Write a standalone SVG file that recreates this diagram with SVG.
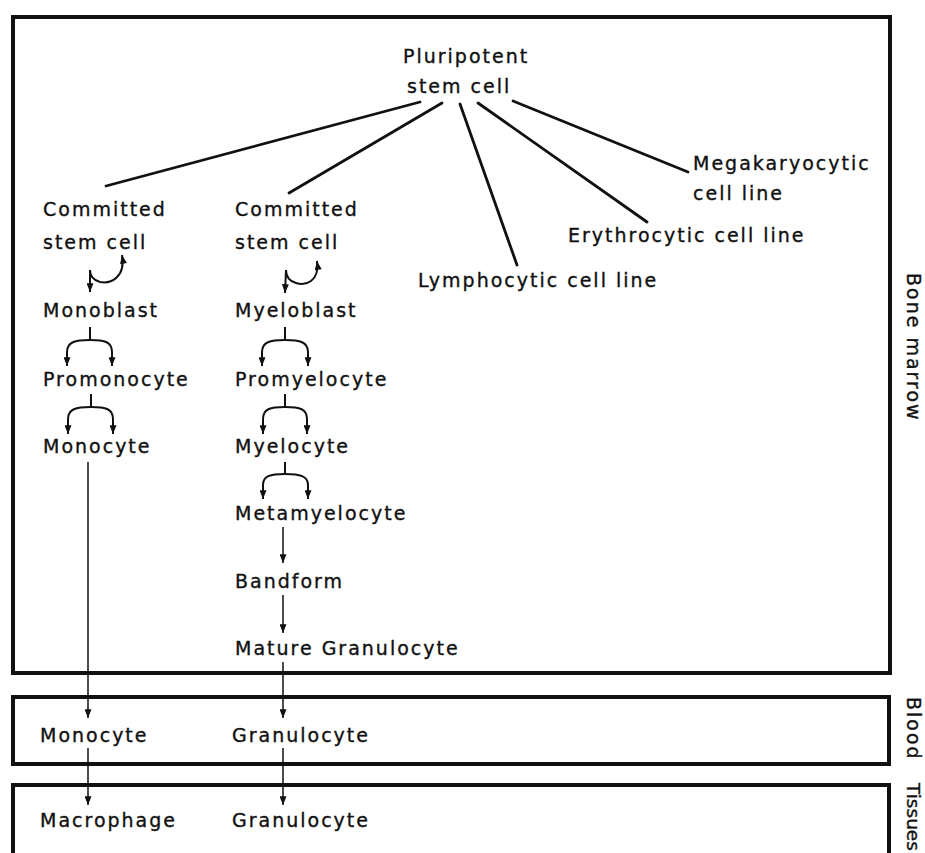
<svg xmlns="http://www.w3.org/2000/svg" width="925" height="853" viewBox="0 0 925 853">
<style>
  text { font-family: "DejaVu Sans", "Liberation Sans", sans-serif; font-size: 19px; letter-spacing: 2px; fill: #111; stroke: #111; stroke-width: 0.35; }
  .box { fill: none; stroke: #111; stroke-width: 4; }
  .bl { fill: none; stroke: #111; stroke-width: 2.8; stroke-linecap: round; }
  .sm { fill: none; stroke: #111; stroke-width: 2; }
  .th { fill: none; stroke: #111; stroke-width: 1.5; }
</style>
<defs>
  <marker id="ah" viewBox="0 0 10 8" refX="10" refY="4" markerWidth="10" markerHeight="7" markerUnits="userSpaceOnUse" orient="auto-start-reverse">
    <path d="M0,0 L10,4 L0,8 z" fill="#111"/>
  </marker>
</defs>
<rect width="925" height="853" fill="#fff"/>

<g id="regions">
  <rect class="box" x="13" y="17" width="877" height="656"/>
  <rect class="box" x="13" y="697" width="876" height="67"/>
  <path class="box" d="M13,860 L13,785 L889,785 L889,860"/>
  <text transform="translate(907,273) rotate(90)">Bone marrow</text>
  <text transform="translate(907,697) rotate(90)">Blood</text>
  <text transform="translate(907,783) rotate(90)" style="font-size:18.5px;letter-spacing:0">Tissues</text>
</g>

<g id="connectors">
  <line class="bl" x1="420" y1="102" x2="106" y2="186"/>
  <line class="bl" x1="442" y1="103" x2="289" y2="193"/>
  <line class="bl" x1="460" y1="104" x2="517" y2="265"/>
  <line class="bl" x1="478" y1="103" x2="647" y2="222"/>
  <line class="bl" x1="513" y1="101" x2="688" y2="172"/>

  <path class="sm" d="M122,255 C126,278 110,284 100,282 C93,280 90,275 90,270 L90,292" marker-start="url(#ah)" marker-end="url(#ah)"/>
  <path class="sm" d="M317,261 C320,282 305,286 296,283 C289,281 286,276 286,270 L285,293" marker-start="url(#ah)" marker-end="url(#ah)"/>

  <path class="sm" d="M90,327 L90,340"/>
  <path class="sm" d="M90,340 C75,340 67,342 67,352 L67,366" marker-end="url(#ah)"/>
  <path class="sm" d="M90,340 C105,340 112,342 112,352 L112,366" marker-end="url(#ah)"/>

  <path class="sm" d="M91,394 L91,407"/>
  <path class="sm" d="M91,407 C76,407 68,409 68,419 L68,434" marker-end="url(#ah)"/>
  <path class="sm" d="M91,407 C106,407 113,409 113,419 L113,434" marker-end="url(#ah)"/>

  <path class="sm" d="M285,327 L285,340"/>
  <path class="sm" d="M285,340 C270,340 262,342 262,352 L262,366" marker-end="url(#ah)"/>
  <path class="sm" d="M285,340 C300,340 308,342 308,352 L308,366" marker-end="url(#ah)"/>

  <path class="sm" d="M285,394 L285,407"/>
  <path class="sm" d="M285,407 C270,407 263,409 263,419 L263,434" marker-end="url(#ah)"/>
  <path class="sm" d="M285,407 C300,407 307,409 307,419 L307,434" marker-end="url(#ah)"/>

  <path class="sm" d="M285,462 L285,474"/>
  <path class="sm" d="M285,474 C270,474 263,476 263,485 L263,499" marker-end="url(#ah)"/>
  <path class="sm" d="M285,474 C300,474 308,476 308,485 L308,499" marker-end="url(#ah)"/>

  <line class="th" x1="283" y1="527" x2="283" y2="563" marker-end="url(#ah)"/>
  <line class="th" x1="283" y1="595" x2="283" y2="633" marker-end="url(#ah)"/>
  <line class="th" x1="283" y1="662" x2="283" y2="718" marker-end="url(#ah)"/>
  <line class="th" x1="283" y1="748" x2="283" y2="805" marker-end="url(#ah)"/>
  <line class="th" x1="88" y1="462" x2="88" y2="718" marker-end="url(#ah)"/>
  <line class="th" x1="88" y1="748" x2="88" y2="805" marker-end="url(#ah)"/>
</g>

<g id="pluripotent"><text x="403" y="63">Pluripotent</text><text x="407" y="93">stem cell</text></g>
<g id="megakaryocytic"><text x="693" y="170">Megakaryocytic</text><text x="693" y="200">cell line</text></g>
<g id="erythrocytic"><text x="568" y="242">Erythrocytic cell line</text></g>
<g id="lymphocytic"><text x="418" y="287">Lymphocytic cell line</text></g>
<g id="committed1"><text x="43" y="216">Committed</text><text x="43" y="249">stem cell</text></g>
<g id="committed2"><text x="235" y="216">Committed</text><text x="235" y="249">stem cell</text></g>
<g id="monoblast"><text x="43" y="317">Monoblast</text></g>
<g id="promonocyte"><text x="43" y="386">Promonocyte</text></g>
<g id="monocyte"><text x="43" y="453">Monocyte</text></g>
<g id="myeloblast"><text x="235" y="317">Myeloblast</text></g>
<g id="promyelocyte"><text x="235" y="386">Promyelocyte</text></g>
<g id="myelocyte"><text x="235" y="453">Myelocyte</text></g>
<g id="metamyelocyte"><text x="235" y="520">Metamyelocyte</text></g>
<g id="bandform"><text x="235" y="588">Bandform</text></g>
<g id="mature-granulocyte"><text x="235" y="655">Mature Granulocyte</text></g>
<g id="blood-monocyte"><text x="40" y="742">Monocyte</text></g>
<g id="blood-granulocyte"><text x="232" y="742">Granulocyte</text></g>
<g id="macrophage"><text x="40" y="827">Macrophage</text></g>
<g id="tissue-granulocyte"><text x="232" y="827">Granulocyte</text></g>
</svg>
